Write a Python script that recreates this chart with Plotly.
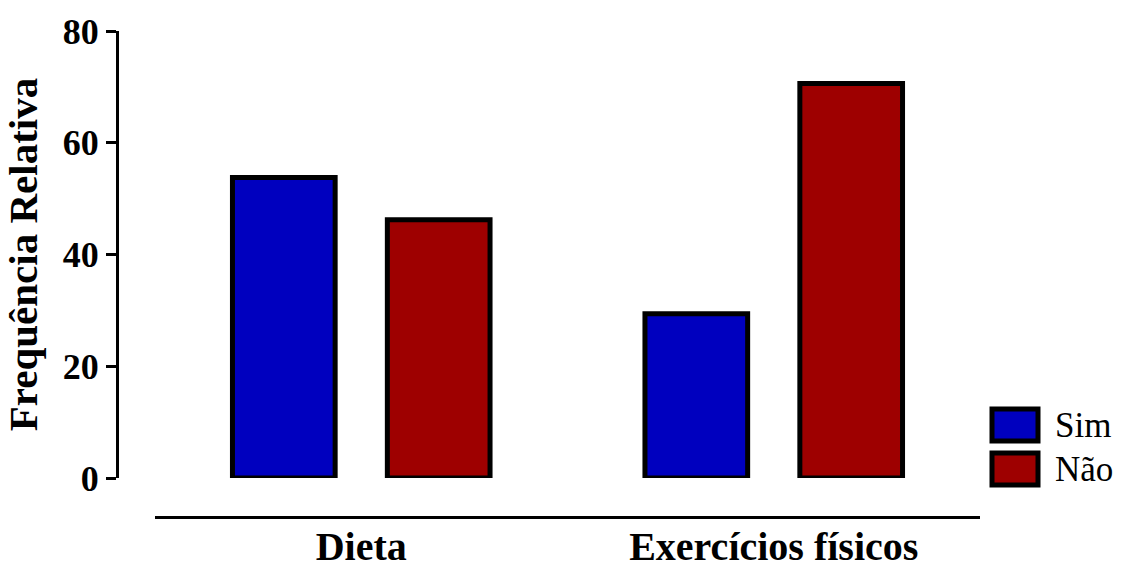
import plotly.graph_objects as go

categories = ["Dieta", "Exercícios físicos"]
series_names = ["Sim", "Não"]
sim_values = [53.8, 29.4]
nao_values = [46.2, 70.6]
y_ticks = [0, 20, 40, 60, 80]

colors = ["#0000BF", "#9E0000"]
W, H = 1128, 570
FONT = "Liberation Serif"


def px_x(p):
    return p / W


def px_y(p):
    return 1 - p / H


fig = go.Figure()
for name, vals, col in zip(series_names, [sim_values, nao_values], colors):
    fig.add_trace(go.Bar(
        x=categories, y=vals, name=name,
        marker=dict(color=col, line=dict(color="black", width=5)),
        showlegend=False,
    ))

fig.update_layout(
    width=W, height=H,
    margin=dict(l=0, r=0, t=0, b=0, autoexpand=False),
    paper_bgcolor="white", plot_bgcolor="white",
    barmode="group", bargap=0.249, bargroupgap=0.337,
    font=dict(family=FONT, color="black"),
    xaxis=dict(
        domain=[px_x(155), px_x(980)], anchor="free", position=px_y(517),
        range=[-0.5, 1.5], showline=True, linewidth=3, linecolor="black",
        ticks="", showgrid=False, zeroline=False,
        tickfont=dict(family=FONT, size=40, weight="bold", color="black"),
        automargin=False, ticklabelstandoff=-7,
    ),
    yaxis=dict(
        domain=[px_y(478), px_y(31)], anchor="free", position=px_x(117),
        range=[0, 80], tickvals=y_ticks, showline=True, linewidth=3, linecolor="black",
        ticks="outside", ticklen=10, tickwidth=3, tickcolor="black",
        showgrid=False, zeroline=False,
        tickfont=dict(family=FONT, size=36, weight="bold", color="black"),
        title=dict(text="Frequência Relativa", standoff=12,
                   font=dict(family=FONT, size=41, weight="bold", color="black")),
        automargin=False,
    ),
)

# custom legend
legend_rows = [(407, 443), (451, 487)]
for (y0, y1), name, col in zip(legend_rows, series_names, colors):
    fig.add_shape(type="rect", xref="paper", yref="paper",
                  x0=px_x(992), x1=px_x(1038), y0=px_y(y1 - 2), y1=px_y(y0 + 2),
                  fillcolor=col, line=dict(color="black", width=5))
    fig.add_annotation(xref="paper", yref="paper", x=px_x(1053), y=px_y((y0 + y1) / 2),
                       xanchor="left", yanchor="middle", showarrow=False, text=name,
                       font=dict(family=FONT, size=35, color="black"))

fig.write_html("out.html", config={"displayModeBar": False},
               post_script="document.body.style.margin='0';document.body.style.overflow='hidden';")
